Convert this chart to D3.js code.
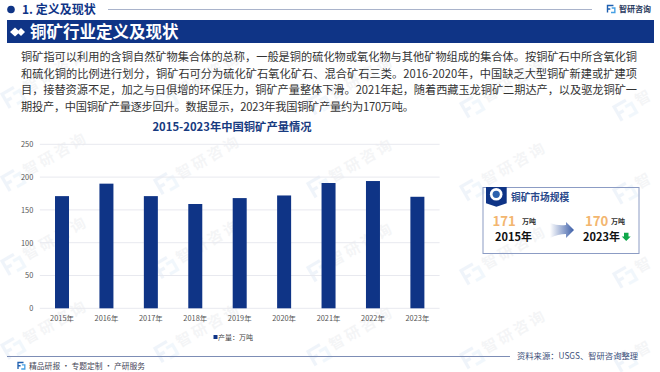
<!DOCTYPE html>
<html lang="zh">
<head>
<meta charset="UTF-8">
<title>2015-2023年中国铜矿产量情况</title>
<script src="https://cdn.jsdelivr.net/npm/d3@7/dist/d3.min.js"></script>
<style>
    html, body { margin: 0; padding: 0; background: #fff; }
    svg { display: block; }
    text { font-family: "Noto Sans CJK SC", "Noto Sans", sans-serif; }
    .axis path, .axis line { display: none; }
    .axis text { font-size: 7.4px; fill: #555; font-family: "Noto Sans CJK SC", sans-serif; }
    .grid line { stroke: #e8e9ef; stroke-width: 1; }
    .body-text { font-size: 11.2px; fill: #333; }
</style>
</head>
<body>
<script>
    // 数据
    const years = ['2015年', '2016年', '2017年', '2018年', '2019年', '2020年', '2021年', '2022年', '2023年'];
    const output = [171, 190, 171, 159, 168, 172, 191, 194, 170];
    const yTicks = [0, 50, 100, 150, 200, 250];
    const paragraph = [
        '铜矿指可以利用的含铜自然矿物集合体的总称，一般是铜的硫化物或氧化物与其他矿物组成的集合体。按铜矿石中所含氧化铜',
        '和硫化铜的比例进行划分，铜矿石可分为硫化矿石氧化矿石、混合矿石三类。2016-2020年，中国缺乏大型铜矿新建或扩建项',
        '目，接替资源不足，加之与日俱增的环保压力，铜矿产量整体下滑。2021年起，随着西藏玉龙铜矿二期达产，以及驱龙铜矿一',
        '期投产，中国铜矿产量逐步回升。数据显示，2023年我国铜矿产量约为170万吨。'
    ];
    const lineWidths = [616, 616, 616, 393];

    const w = 660, h = 372;
    const navy = '#0f3486';

    const svg = d3.select('body').append('svg')
        .attr('width', w)
        .attr('height', h);

    const grad = svg.append('defs').append('linearGradient').attr('id', 'arrowGrad');
    grad.append('stop').attr('offset', '0').attr('stop-color', '#ffffff');
    grad.append('stop').attr('offset', '1').attr('stop-color', '#3c5ea8');

    svg.append('rect').attr('width', w).attr('height', h).attr('fill', '#fff');

    // 小 logo：左深右浅两个方框
    function logo(g, x, y, s, c1, c2) {
        g.append('path')
            .attr('d', `M${x} ${y + s} V${y} H${x + s * 0.85} M${x} ${y + s * 0.5} H${x + s * 0.4}`)
            .attr('fill', 'none').attr('stroke', c1).attr('stroke-width', s * 0.2);
        g.append('path')
            .attr('d', `M${x + s * 0.5} ${y + s} H${x + s * 1.05} V${y + s * 0.35} H${x + s * 0.6}`)
            .attr('fill', 'none').attr('stroke', c2).attr('stroke-width', s * 0.2);
    }

    // 水印
    const wmX = [13, 166, 319, 472, 625];
    const wmY = [97, 180, 264, 348];
    const wm = svg.append('g');
    wmY.forEach(y => {
        wmX.forEach((x, k) => {
            const yy = y + k * 3.2;
            const g = wm.append('g').attr('transform', 'translate(' + x + ',' + yy + ') rotate(-30)');
            logo(g.append('g').attr('opacity', 0.07), -8, -8, 16, '#2f6fc0', '#4f9fe0');
            g.append('text')
                .attr('x', 14).attr('y', 4)
                .attr('font-size', 15).attr('font-weight', 700)
                .attr('letter-spacing', 3)
                .attr('fill', '#3a4a6a')
                .attr('opacity', 0.05)
                .text(k === 4 ? '智' : '智研咨询');
        });
    });

    // 顶部标题
    svg.append('circle').attr('cx', 11).attr('cy', 9.5).attr('r', 3.8).attr('fill', navy);
    svg.append('text').attr('x', 22).attr('y', 14)
        .attr('font-size', 12).attr('font-weight', 700).attr('fill', navy)
        .text('1. 定义及现状');
    svg.append('line').attr('x1', 108).attr('x2', 592).attr('y1', 9.5).attr('y2', 9.5)
        .attr('stroke', '#a9b3cb').attr('stroke-width', 1);

    logo(svg.append('g'), 607.5, 5.5, 7, '#1e5fb0', '#45a0e4');
    svg.append('text').attr('x', 619).attr('y', 12).attr('font-size', 8).attr('font-weight', 700).attr('fill', '#2a3a5e')
        .text('智研咨询');

    // 主标题条
    svg.append('rect').attr('x', 7).attr('y', 20).attr('width', 647).attr('height', 23).attr('fill', navy);
    svg.append('path').attr('d', 'M10 32 L15 27.5 L20 32 L15 36.5 Z').attr('fill', '#fff');
    svg.append('path').attr('d', 'M17 32 L21 28 L25 32 L21 36 Z').attr('fill', '#fff');
    svg.append('text').attr('x', 30).attr('y', 37.5)
        .attr('font-size', 16.5).attr('font-weight', 700).attr('fill', '#fff')
        .text('铜矿行业定义及现状');

    // 正文
    svg.selectAll('.body-text').data(paragraph).enter().append('text')
        .attr('class', 'body-text')
        .attr('x', 21)
        .attr('y', (d, i) => 61 + i * 16.7)
        .attr('textLength', (d, i) => lineWidths[i])
        .text(d => d);

    // 图表标题
    svg.append('text').attr('x', 232).attr('y', 131)
        .attr('text-anchor', 'middle')
        .attr('font-size', 11.3).attr('font-weight', 700).attr('fill', '#173a80')
        .text('2015-2023年中国铜矿产量情况');

    // 比例尺
    const xScale = d3.scaleBand().domain(years).range([39.8, 439.6]);
    const yScale = d3.scaleLinear().domain([0, 250]).range([308.3, 144.3]);

    svg.append('g')
        .attr('class', 'grid')
        .selectAll('line').data(yTicks).enter().append('line')
        .attr('x1', 39.8).attr('x2', 439.6)
        .attr('y1', d => yScale(d)).attr('y2', d => yScale(d));

    const barW = 14;
    svg.selectAll('.bar').data(output).enter().append('rect')
        .attr('class', 'bar')
        .attr('x', (d, i) => xScale(years[i]) + xScale.bandwidth() / 2 - barW / 2)
        .attr('y', d => yScale(d))
        .attr('width', barW)
        .attr('height', d => yScale(0) - yScale(d))
        .attr('fill', navy);

    svg.append('g').attr('class', 'axis')
        .attr('transform', 'translate(0,308.3)')
        .call(d3.axisBottom(xScale).tickSize(0).tickPadding(7));
    svg.append('g').attr('class', 'axis')
        .attr('transform', 'translate(39.8,0)')
        .call(d3.axisLeft(yScale).tickValues(yTicks).tickSize(0).tickPadding(6.5));

    // 图例
    svg.append('rect').attr('x', 213.5).attr('y', 335).attr('width', 4).attr('height', 4).attr('fill', navy);
    svg.append('text').attr('x', 218).attr('y', 339.5).attr('font-size', 7).attr('fill', '#444').text('产量：万吨');

    // 右侧卡片
    const card = svg.append('g');
    card.append('rect').attr('x', 483).attr('y', 187.5).attr('width', 156).attr('height', 66)
        .attr('fill', 'none').attr('stroke', '#8c9cc4').attr('stroke-width', 1);
    card.append('path').attr('d', 'M486 187 H506.7 V203.3 L496.4 206.7 L486 203.3 Z').attr('fill', navy);
    card.append('circle').attr('cx', 496.2).attr('cy', 194.3).attr('r', 6.3).attr('fill', '#fff');
    card.append('circle').attr('cx', 496.2).attr('cy', 194.3).attr('r', 3.6).attr('fill', '#2d62ae');
    card.append('text').attr('x', 511).attr('y', 200.7).attr('font-size', 9.7).attr('font-weight', 700).attr('fill', '#27478a').text('铜矿市场规模');

    card.append('text').attr('x', 492.5).attr('y', 225.5).attr('font-size', 13.2).attr('font-weight', 700).attr('fill', '#f3b66f').text('171');
    card.append('text').attr('x', 522).attr('y', 224).attr('font-size', 7).attr('font-weight', 700).attr('fill', '#333').text('万吨');
    card.append('text').attr('x', 495).attr('y', 241).attr('font-size', 11).attr('font-weight', 700).attr('fill', '#111').text('2015年');

    card.append('path').attr('d', 'M550 223 Q558 226 566 225 L566 222 L574 230 L566 238 L566 234 Q558 234 550 238 Z').attr('fill', 'url(#arrowGrad)');

    card.append('text').attr('x', 585).attr('y', 225.5).attr('font-size', 13.2).attr('font-weight', 700).attr('fill', '#f3b66f').text('170');
    card.append('text').attr('x', 611).attr('y', 224).attr('font-size', 7).attr('font-weight', 700).attr('fill', '#333').text('万吨');
    card.append('text').attr('x', 583).attr('y', 241).attr('font-size', 11).attr('font-weight', 700).attr('fill', '#111').text('2023年');
    card.append('path').attr('d', 'M624 232.7 H628.5 V236.5 H630.7 L626.2 241 L621.7 236.5 H624 Z').attr('fill', '#10a84a');

    // 底部
    svg.append('line').attr('x1', 7).attr('x2', 510).attr('y1', 356.5).attr('y2', 356.5)
        .attr('stroke', '#7d8db5').attr('stroke-width', 1);
    logo(svg.append('g'), 18, 362.5, 6.5, '#1e5fb0', '#45a0e4');
    svg.append('text').attr('x', 29).attr('y', 369).attr('font-size', 7.8).attr('fill', '#445').text('精品研报 · 专题定制 · 产研服务');
    svg.append('text').attr('x', 517).attr('y', 359.3).attr('font-size', 8.3).attr('fill', '#3d4f7a').text('资料来源：USGS、智研咨询整理');
</script>
</body>
</html>
